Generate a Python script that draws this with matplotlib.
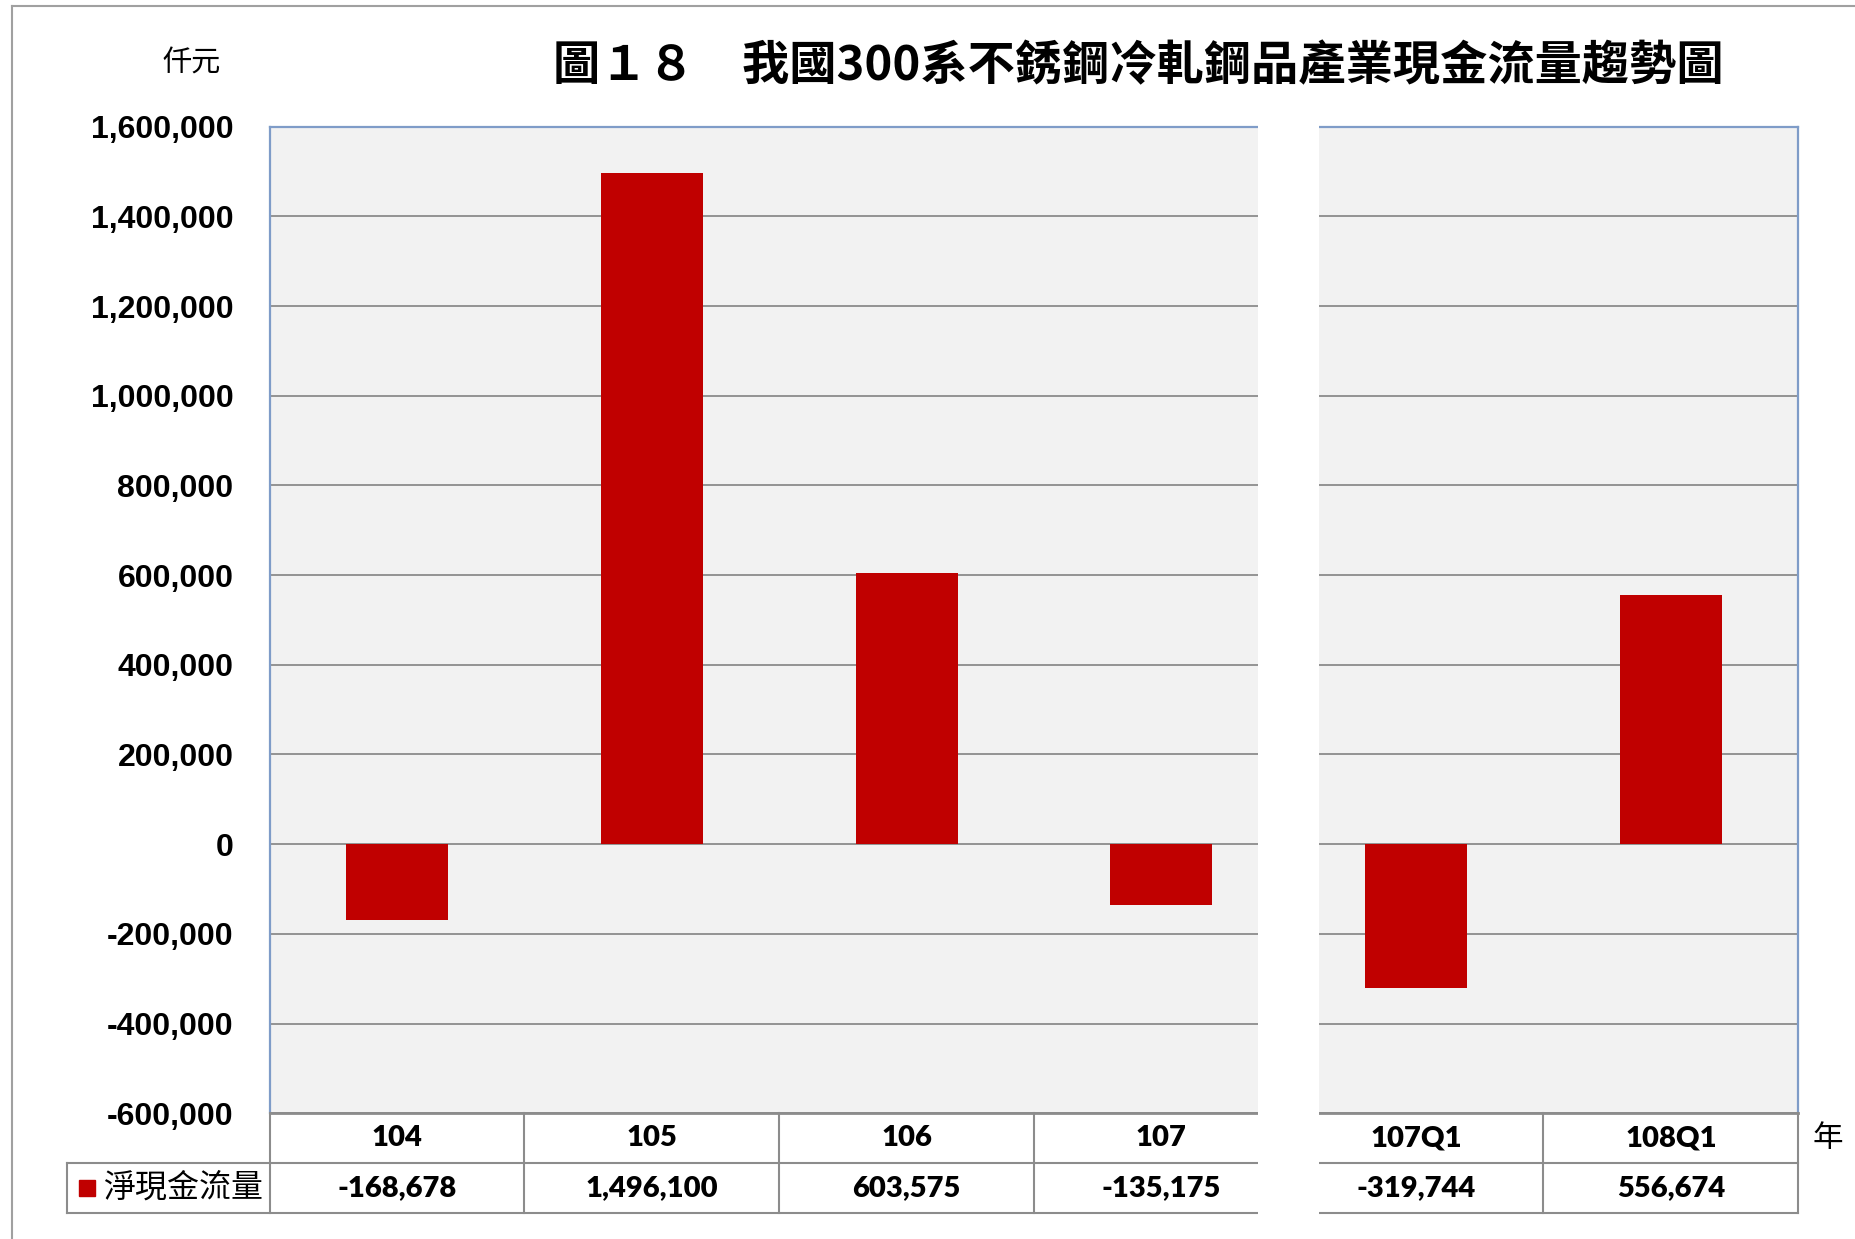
import matplotlib
matplotlib.use("Agg")
import matplotlib.pyplot as plt
from matplotlib.patches import Rectangle
from matplotlib.lines import Line2D
from matplotlib.ticker import FuncFormatter

# data
periods = ['104', '105', '106', '107', '107Q1', '108Q1']
cash_flow = [-168678, 1496100, 603575, -135175, -319744, 556674]
series_name = '淨現金流量'
title = '圖１８　我國300系不銹鋼冷軋鋼品產業現金流量趨勢圖'
unit = '仟元'
x_unit = '年'
y_ticks = list(range(-600000, 1600001, 200000))

RED = '#C00000'
GRID = '#8C8C8C'
BLUE = '#7F9CC8'
CJK = ['Noto Sans CJK TC', 'DejaVu Sans']

fig = plt.figure(figsize=(18.55, 12.39), dpi=100)
ax = fig.add_axes([0.1454, 0.1015, 0.824, 0.7963])
ax.set_facecolor('#F2F2F2')

xs = list(range(len(periods)))
ax.bar(xs, cash_flow, width=0.4, color=RED, zorder=3)

ax.set_xlim(-0.5, len(periods) - 0.5)
ax.set_ylim(y_ticks[0], y_ticks[-1])
ax.set_yticks(y_ticks)
ax.yaxis.set_major_formatter(FuncFormatter(lambda v, p: f'{int(v):,}'))
ax.tick_params(axis='y', length=0, pad=26)
for lab in ax.get_yticklabels():
    lab.set_fontfamily('Liberation Sans')
    lab.set_fontweight('bold')
    lab.set_fontsize(23)
ax.set_xticks([])
ax.grid(axis='y', color=GRID, lw=1.3, zorder=1)
ax.set_axisbelow(True)

for side in ['top', 'right', 'left']:
    ax.spines[side].set_color(BLUE)
    ax.spines[side].set_linewidth(1.6)
ax.spines['bottom'].set_color(GRID)
ax.spines['bottom'].set_linewidth(2)

# data table under the plot
tr = ax.get_xaxis_transform()
row_mid = -0.0505
row_bot = -0.101
head_y = -0.0251
data_y = -0.0758
leg_left = -0.1324
for i, (p, v) in enumerate(zip(periods, cash_flow)):
    ax.text(i, head_y, p, transform=tr, ha='center', va='center',
            fontsize=21, fontweight='heavy', family='Lato')
    ax.text(i, data_y, f'{v:,}', transform=tr, ha='center', va='center',
            fontsize=21, fontweight='heavy', family='Lato')
for b in [-0.5, 0.5, 1.5, 2.5, 4.5, len(periods) - 0.5]:
    ax.plot([b, b], [0, row_bot], transform=tr, color=GRID, lw=1.5,
            clip_on=False, zorder=3)
ax.plot([leg_left, 1], [row_mid, row_mid], transform=ax.transAxes,
        color=GRID, lw=1.5, clip_on=False, zorder=3)
ax.plot([leg_left, 1], [row_bot, row_bot], transform=ax.transAxes,
        color=GRID, lw=1.5, clip_on=False, zorder=3)
ax.plot([leg_left, leg_left], [row_mid, row_bot], transform=ax.transAxes,
        color=GRID, lw=1.5, clip_on=False, zorder=3)
ax.plot([-0.1195], [data_y], marker='s', ms=12, color=RED,
        transform=ax.transAxes, clip_on=False)
ax.text(-0.109, data_y, series_name, transform=ax.transAxes, ha='left',
        va='center', fontsize=23, family=CJK)
ax.text(1.0195, head_y, x_unit, transform=ax.transAxes, ha='center',
        va='center', fontsize=22, family=CJK)

# white gap between the yearly and quarterly part
ax.add_patch(Rectangle((3.5 - 0.12, -0.12), 0.24, 1.14, transform=tr,
                       facecolor='white', edgecolor='none', zorder=20,
                       clip_on=False))

fig.text(191.6 / 1855, 1 - 64 / 1239, unit, ha='center', va='center',
         fontsize=21, family=CJK)
fig.text(553 / 1855, 1 - 66 / 1239, title, ha='left', va='center',
         fontsize=34, fontweight='bold', family=CJK)

# outer frame
fig.add_artist(Line2D([12 / 1855, 1], [1 - 6 / 1239, 1 - 6 / 1239],
                      color='#A0A0A0', lw=1.5))
fig.add_artist(Line2D([12 / 1855, 12 / 1855], [0, 1 - 6 / 1239],
                      color='#A0A0A0', lw=1.5))

fig.savefig('out.png', dpi=100)
